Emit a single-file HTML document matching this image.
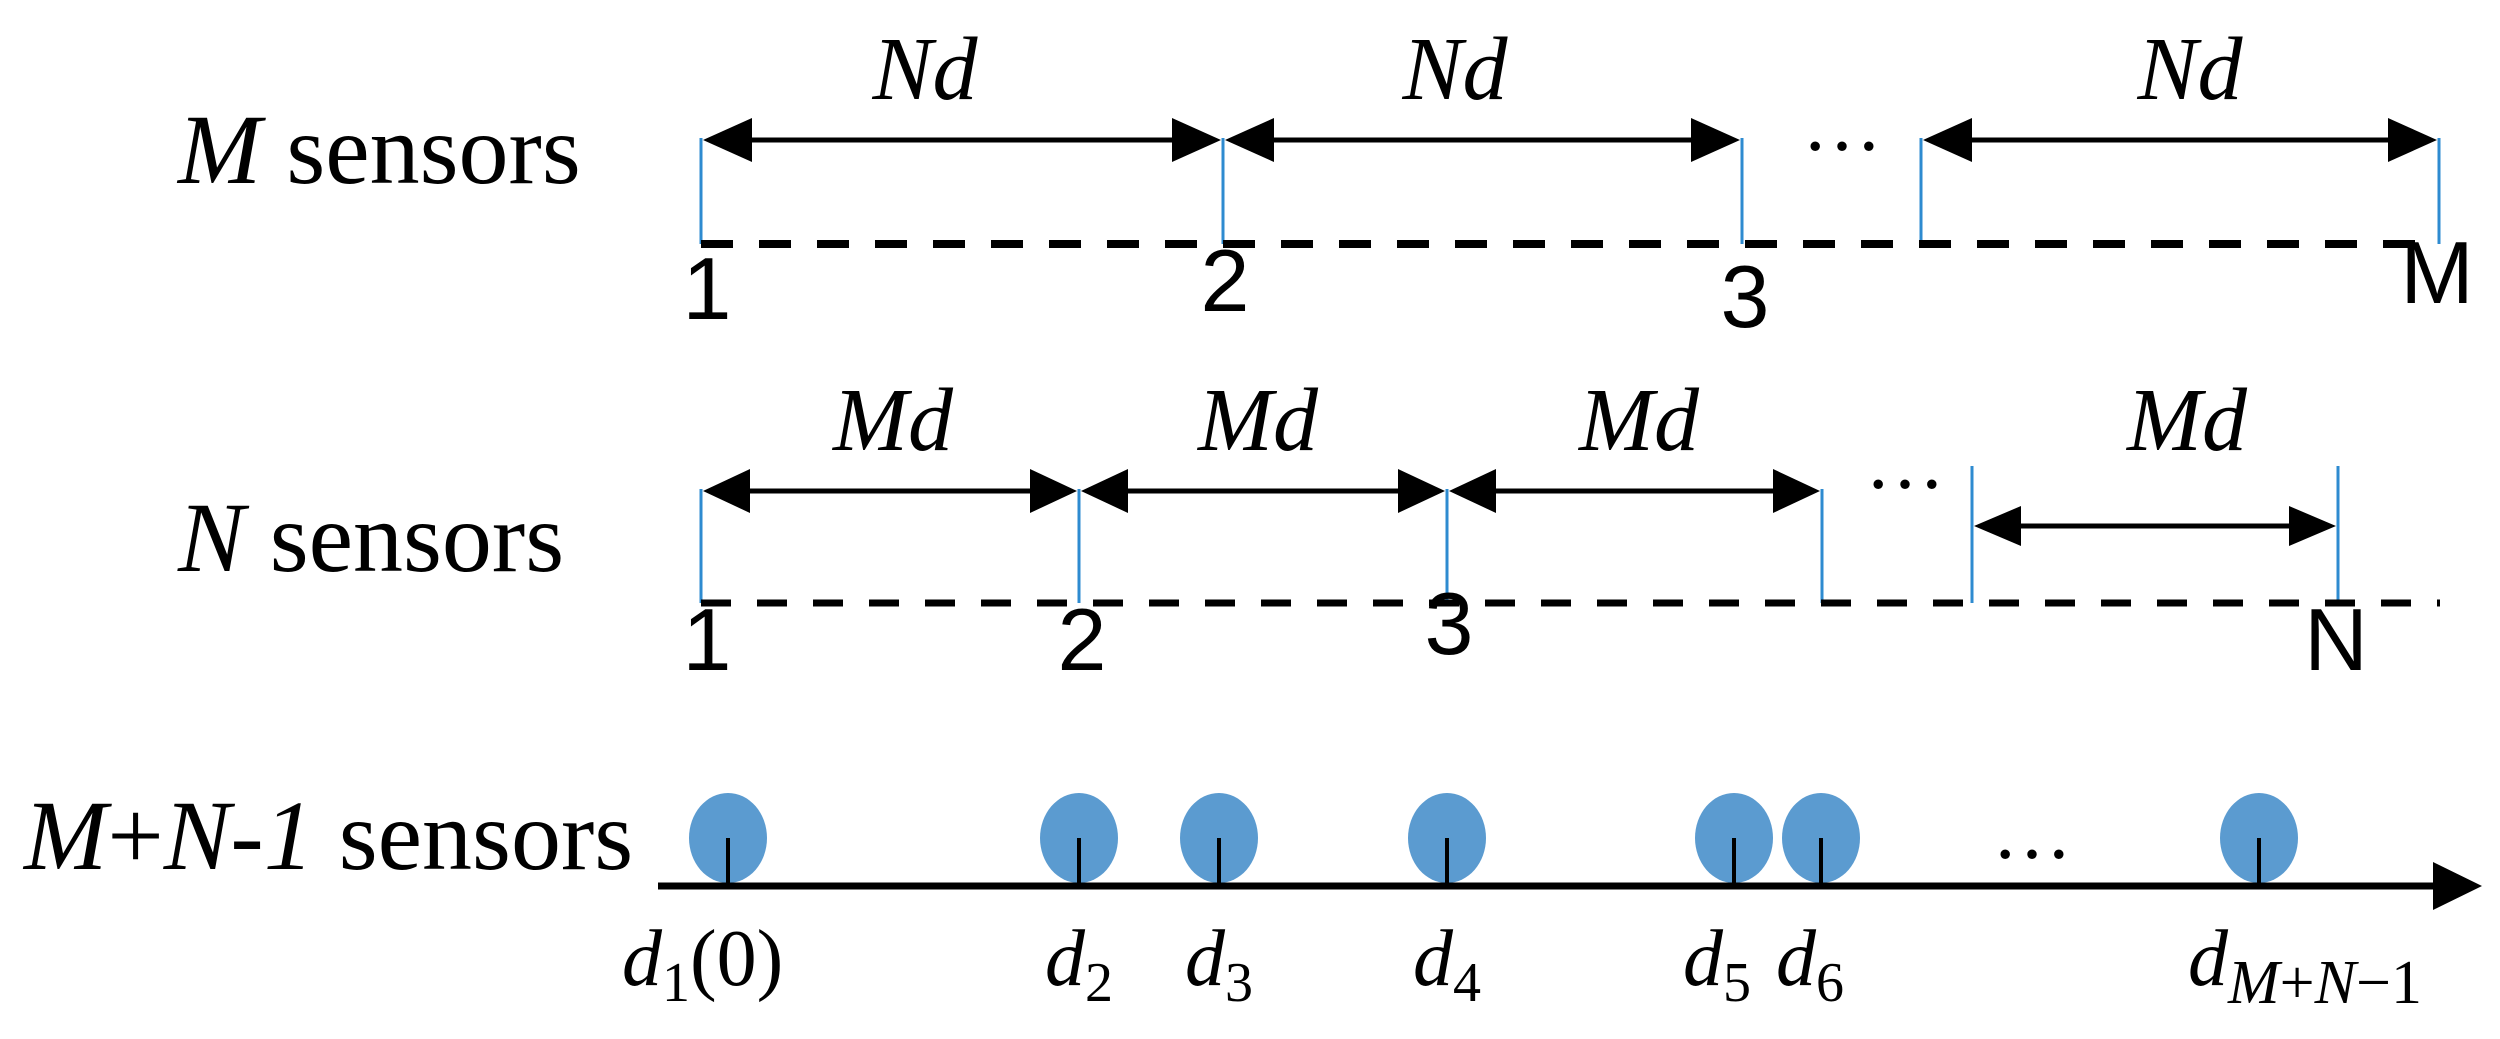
<!DOCTYPE html>
<html><head><meta charset="utf-8"><style>
html,body{margin:0;padding:0;background:#fff;}
svg{display:block}
.ser{font-family:"Liberation Serif",serif;}
.it{font-family:"Liberation Serif",serif;font-style:italic;}
.sans{font-family:"Liberation Sans",sans-serif;}
</style></head><body>
<svg width="2500" height="1039" viewBox="0 0 2500 1039" xmlns="http://www.w3.org/2000/svg">
<g fill="#000">
<!-- Row 1 -->
<text x="178" y="183" font-size="100" class="ser"><tspan class="it">M</tspan> sensors</text>
<g stroke="#2e8bd0" stroke-width="3">
<line x1="701" y1="138" x2="701" y2="244"/><line x1="1223" y1="138" x2="1223" y2="244"/>
<line x1="1742" y1="138" x2="1742" y2="244"/><line x1="1921" y1="138" x2="1921" y2="244"/>
<line x1="2439" y1="138" x2="2439" y2="244"/>
</g>
<line x1="701" y1="244" x2="2439" y2="244" stroke="#000" stroke-width="8" stroke-dasharray="32,26"/>
<g stroke="#000" stroke-width="5">
<line x1="740" y1="140" x2="1185" y2="140"/><line x1="1262" y1="140" x2="1703" y2="140"/><line x1="1960" y1="140" x2="2400" y2="140"/>
</g>
<polygon points="703,140 752,118 752,162"/><polygon points="1221,140 1172,118 1172,162"/>
<polygon points="1225,140 1274,118 1274,162"/><polygon points="1740,140 1691,118 1691,162"/>
<polygon points="1923,140 1972,118 1972,162"/><polygon points="2437,140 2388,118 2388,162"/>
<text x="925" y="99" font-size="90" class="it" text-anchor="middle">Nd</text>
<text x="1455" y="99" font-size="90" class="it" text-anchor="middle">Nd</text>
<text x="2190" y="99" font-size="90" class="it" text-anchor="middle">Nd</text>
<text x="1842" y="150" font-size="80" class="ser" text-anchor="middle">…</text>
<text x="707" y="319" font-size="88" class="sans" text-anchor="middle">1</text>
<text x="1225" y="311" font-size="88" class="sans" text-anchor="middle">2</text>
<text x="1745" y="327" font-size="88" class="sans" text-anchor="middle">3</text>
<text x="2437" y="303" font-size="88" class="sans" text-anchor="middle">M</text>
<!-- Row 2 -->
<text x="178" y="571" font-size="100" class="ser"><tspan class="it">N</tspan> sensors</text>
<g stroke="#2e8bd0" stroke-width="3">
<line x1="701" y1="489" x2="701" y2="603"/><line x1="1079" y1="489" x2="1079" y2="603"/>
<line x1="1447" y1="489" x2="1447" y2="603"/><line x1="1822" y1="489" x2="1822" y2="603"/>
<line x1="1972" y1="466" x2="1972" y2="603"/><line x1="2338" y1="466" x2="2338" y2="603"/>
</g>
<line x1="701" y1="603" x2="2440" y2="603" stroke="#000" stroke-width="7" stroke-dasharray="30,26"/>
<g stroke="#000" stroke-width="5">
<line x1="740" y1="491" x2="1040" y2="491"/><line x1="1118" y1="491" x2="1408" y2="491"/><line x1="1486" y1="491" x2="1783" y2="491"/>
<line x1="2010" y1="526" x2="2300" y2="526"/>
</g>
<polygon points="703,491 750,469 750,513"/><polygon points="1077,491 1030,469 1030,513"/>
<polygon points="1081,491 1128,469 1128,513"/><polygon points="1445,491 1398,469 1398,513"/>
<polygon points="1449,491 1496,469 1496,513"/><polygon points="1820,491 1773,469 1773,513"/>
<polygon points="1974,526 2021,506 2021,546"/><polygon points="2336,526 2289,506 2289,546"/>
<text x="893" y="450" font-size="90" class="it" text-anchor="middle">Md</text>
<text x="1258" y="450" font-size="90" class="it" text-anchor="middle">Md</text>
<text x="1639" y="450" font-size="90" class="it" text-anchor="middle">Md</text>
<text x="2187" y="450" font-size="90" class="it" text-anchor="middle">Md</text>
<text x="1905" y="488" font-size="80" class="ser" text-anchor="middle">…</text>
<text x="707" y="670" font-size="88" class="sans" text-anchor="middle">1</text>
<text x="1082" y="670" font-size="88" class="sans" text-anchor="middle">2</text>
<text x="1449" y="654" font-size="88" class="sans" text-anchor="middle">3</text>
<text x="2336" y="670" font-size="88" class="sans" text-anchor="middle">N</text>
<!-- Row 3 -->
<text x="24" y="869" font-size="100" class="ser"><tspan class="it">M</tspan>+<tspan class="it">N</tspan>-<tspan class="it">1</tspan> sensors</text>
<g fill="#5b9bd0">
<ellipse cx="728" cy="838" rx="39" ry="45"/><ellipse cx="1079" cy="838" rx="39" ry="45"/>
<ellipse cx="1219" cy="838" rx="39" ry="45"/><ellipse cx="1447" cy="838" rx="39" ry="45"/>
<ellipse cx="1734" cy="838" rx="39" ry="45"/><ellipse cx="1821" cy="838" rx="39" ry="45"/>
<ellipse cx="2259" cy="838" rx="39" ry="45"/>
</g>
<g stroke="#000" stroke-width="4">
<line x1="728" y1="838" x2="728" y2="885"/><line x1="1079" y1="838" x2="1079" y2="885"/>
<line x1="1219" y1="838" x2="1219" y2="885"/><line x1="1447" y1="838" x2="1447" y2="885"/>
<line x1="1734" y1="838" x2="1734" y2="885"/><line x1="1821" y1="838" x2="1821" y2="885"/>
<line x1="2259" y1="838" x2="2259" y2="885"/>
</g>
<line x1="658" y1="886" x2="2440" y2="886" stroke="#000" stroke-width="7"/>
<polygon points="2482,886 2433,862 2433,910"/>
<text x="2032" y="858" font-size="80" class="ser" text-anchor="middle">…</text>
<g class="it" font-size="80">
<text x="622" y="985">d<tspan font-size="56" dy="16" font-style="normal">1</tspan><tspan dy="-16" font-style="normal">(0)</tspan></text>
<text x="1045" y="985">d<tspan font-size="56" dy="16" font-style="normal">2</tspan></text>
<text x="1185" y="985">d<tspan font-size="56" dy="16" font-style="normal">3</tspan></text>
<text x="1413" y="985">d<tspan font-size="56" dy="16" font-style="normal">4</tspan></text>
<text x="1683" y="985">d<tspan font-size="56" dy="16" font-style="normal">5</tspan></text>
<text x="1776" y="985">d<tspan font-size="56" dy="16" font-style="normal">6</tspan></text>
<text x="2188" y="985">d<tspan font-size="62" dy="18">M</tspan><tspan font-size="62" font-style="normal">+</tspan><tspan font-size="62">N</tspan><tspan font-size="62" font-style="normal">−1</tspan></text>
</g>
</g>
</svg>
</body></html>
